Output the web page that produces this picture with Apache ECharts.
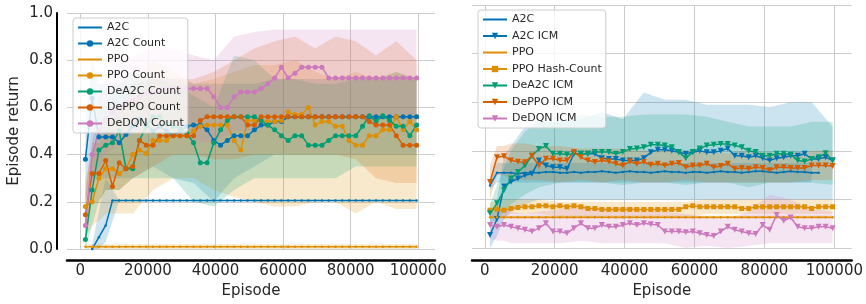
<!DOCTYPE html>
<html>
<head>
<meta charset="utf-8">
<script src="https://cdn.jsdelivr.net/npm/echarts@6/dist/echarts.min.js"></script>
<style>
  html, body { margin: 0; padding: 0; background: #fff; }
  #chart { width: 866px; height: 304px; }
</style>
</head>
<body>
<div id="chart"></div>
<script>
// episodes at which every curve was logged
var episodes = [
  1500, 3500, 5500, 7500, 9500, 11500, 13500, 15500, 17500, 19500,
  21500, 23500, 25500, 27500, 29500, 31500, 33500, 35500, 37500, 39500,
  41500, 43500, 45500, 47500, 49500, 51500, 53500, 55500, 57500, 59500,
  61500, 63500, 65500, 67500, 69500, 71500, 73500, 75500, 77500, 79500,
  81500, 83500, 85500, 87500, 89500, 91500, 93500, 95500, 97500, 99500
];
// coarser grid for the shaded std bands
var bandEpisodes = [1500, 3500, 5500, 7500, 11500, 15500, 21500, 27500, 33500, 39500,
  45500, 51500, 57500, 63500, 69500, 75500, 81500, 87500, 93500, 99500];
var xTicks = [0, 20000, 40000, 60000, 80000, 100000];
var yTicks = [0, 0.2, 0.4, 0.6, 0.8, 1.0];

// ---- left panel (count based bonuses)
var a2cL = [
  null, 0.0, 0.05, 0.10, 0.205, 0.205, 0.205, 0.205, 0.205, 0.205,
  0.205, 0.205, 0.205, 0.205, 0.205, 0.205, 0.205, 0.205, 0.205, 0.205,
  0.205, 0.205, 0.205, 0.205, 0.205, 0.205, 0.205, 0.205, 0.205, 0.205,
  0.205, 0.205, 0.205, 0.205, 0.205, 0.205, 0.205, 0.205, 0.205, 0.205,
  0.205, 0.205, 0.205, 0.205, 0.205, 0.205, 0.205, 0.205, 0.205, 0.205
];
var a2cCountL = [
  0.38, 0.64, 0.475, 0.475, 0.475, 0.45, 0.485, 0.52, 0.55, 0.53,
  0.50, 0.52, 0.50, 0.48, 0.50, 0.52, 0.525, 0.525, 0.505, 0.46,
  0.44, 0.46, 0.48, 0.48, 0.48, 0.505, 0.525, 0.525, 0.54, 0.54,
  0.56, 0.56, 0.56, 0.56, 0.56, 0.56, 0.56, 0.56, 0.56, 0.56,
  0.56, 0.56, 0.56, 0.56, 0.56, 0.56, 0.56, 0.56, 0.56, 0.56
];
var ppoL = [
  0.01, 0.01, 0.01, 0.01, 0.01, 0.01, 0.01, 0.01, 0.01, 0.01,
  0.01, 0.01, 0.01, 0.01, 0.01, 0.01, 0.01, 0.01, 0.01, 0.01,
  0.01, 0.01, 0.01, 0.01, 0.01, 0.01, 0.01, 0.01, 0.01, 0.01,
  0.01, 0.01, 0.01, 0.01, 0.01, 0.01, 0.01, 0.01, 0.01, 0.01,
  0.01, 0.01, 0.01, 0.01, 0.01, 0.01, 0.01, 0.01, 0.01, 0.01
];
var ppoCountL = [
  0.18, 0.20, 0.30, 0.34, 0.34, 0.32, 0.34, 0.40, 0.42, 0.405,
  0.46, 0.46, 0.46, 0.48, 0.48, 0.48, 0.50, 0.52, 0.525, 0.525,
  0.525, 0.525, 0.46, 0.42, 0.545, 0.545, 0.545, 0.54, 0.54, 0.545,
  0.58, 0.57, 0.57, 0.60, 0.525, 0.54, 0.54, 0.52, 0.52, 0.46,
  0.44, 0.44, 0.48, 0.48, 0.505, 0.505, 0.56, 0.505, 0.54, 0.505
];
var dea2cCountL = [
  0.04, 0.25, 0.42, 0.44, 0.45, 0.50, 0.34, 0.34, 0.46, 0.52,
  0.56, 0.56, 0.53, 0.52, 0.51, 0.49, 0.45, 0.365, 0.365, 0.45,
  0.505, 0.545, 0.56, 0.56, 0.56, 0.56, 0.545, 0.525, 0.505, 0.48,
  0.46, 0.48, 0.48, 0.44, 0.44, 0.44, 0.46, 0.48, 0.48, 0.48,
  0.48, 0.52, 0.565, 0.54, 0.565, 0.545, 0.52, 0.52, 0.48, 0.525
];
var deppoCountL = [
  0.145, 0.32, 0.32, 0.375, 0.265, 0.365, 0.34, 0.35, 0.46, 0.44,
  0.44, 0.48, 0.48, 0.48, 0.48, 0.48, 0.48, 0.545, 0.56, 0.56,
  0.56, 0.56, 0.56, 0.56, 0.525, 0.525, 0.56, 0.56, 0.56, 0.56,
  0.56, 0.56, 0.56, 0.56, 0.56, 0.56, 0.56, 0.56, 0.56, 0.56,
  0.56, 0.56, 0.54, 0.525, 0.525, 0.525, 0.48, 0.44, 0.44, 0.44
];
var dedqnCountL = [
  0.10, 0.40, 0.50, 0.55, 0.58, 0.60, 0.62, 0.63, 0.65, 0.66,
  0.66, 0.67, 0.68, 0.68, 0.68, 0.68, 0.68, 0.68, 0.68, 0.645,
  0.60, 0.60, 0.645, 0.665, 0.665, 0.665, 0.68, 0.70, 0.725, 0.77,
  0.725, 0.745, 0.77, 0.77, 0.77, 0.77, 0.725, 0.725, 0.725, 0.725,
  0.725, 0.725, 0.725, 0.725, 0.725, 0.725, 0.725, 0.725, 0.725, 0.725
];

// left bands (lower / upper)
var a2cLLo = [null, 0, 0, 0.03, 0.205, 0.205, 0.205, 0.205, 0.205, 0.205, 0.205, 0.205, 0.205, 0.205, 0.205, 0.205, 0.205, 0.205, 0.205, 0.205];
var a2cLHi = [null, 0.02, 0.16, 0.30, 0.205, 0.205, 0.205, 0.205, 0.205, 0.205, 0.205, 0.205, 0.205, 0.205, 0.205, 0.205, 0.205, 0.205, 0.205, 0.205];
var ppoLLo = [0, 0, 0, 0, 0, 0, 0, 0, 0, 0, 0, 0, 0, 0, 0, 0, 0, 0, 0, 0];
var ppoLHi = [0.02, 0.02, 0.02, 0.02, 0.02, 0.02, 0.02, 0.02, 0.02, 0.02, 0.02, 0.02, 0.02, 0.02, 0.02, 0.02, 0.02, 0.02, 0.02, 0.02];
var a2cCountLLo = [0.2, 0.3, 0.3, 0.3, 0.3, 0.3, 0.35, 0.3, 0.28, 0.2, 0.3, 0.35, 0.4, 0.4, 0.4, 0.4, 0.4, 0.4, 0.4, 0.4];
var a2cCountLHi = [0.55, 0.8, 0.7, 0.7, 0.7, 0.7, 0.72, 0.72, 0.7, 0.7, 0.7, 0.7, 0.72, 0.72, 0.72, 0.72, 0.72, 0.72, 0.72, 0.72];
var ppoCountLLo = [0.05, 0.1, 0.12, 0.15, 0.15, 0.15, 0.25, 0.3, 0.3, 0.25, 0.22, 0.2, 0.18, 0.18, 0.2, 0.2, 0.15, 0.2, 0.17, 0.17];
var ppoCountLHi = [0.3, 0.4, 0.5, 0.55, 0.6, 0.7, 0.8, 0.75, 0.7, 0.72, 0.75, 0.78, 0.78, 0.8, 0.75, 0.72, 0.75, 0.72, 0.75, 0.72];
var dea2cCountLLo = [0.0, 0.1, 0.2, 0.25, 0.25, 0.3, 0.3, 0.3, 0.2, 0.18, 0.25, 0.3, 0.3, 0.3, 0.3, 0.3, 0.35, 0.35, 0.35, 0.35];
var dea2cCountLHi = [0.1, 0.45, 0.6, 0.62, 0.7, 0.75, 0.72, 0.7, 0.65, 0.6, 0.82, 0.8, 0.72, 0.72, 0.7, 0.7, 0.72, 0.72, 0.75, 0.72];
var deppoCountLLo = [0.05, 0.2, 0.2, 0.25, 0.25, 0.3, 0.35, 0.4, 0.4, 0.38, 0.38, 0.4, 0.4, 0.4, 0.4, 0.4, 0.38, 0.3, 0.28, 0.28];
var deppoCountLHi = [0.25, 0.45, 0.45, 0.5, 0.6, 0.62, 0.72, 0.72, 0.72, 0.75, 0.8, 0.85, 0.88, 0.9, 0.85, 0.9, 0.88, 0.82, 0.88, 0.8];
var dedqnCountLLo = [0.0, 0.25, 0.35, 0.4, 0.45, 0.5, 0.5, 0.5, 0.45, 0.45, 0.5, 0.5, 0.55, 0.55, 0.55, 0.55, 0.55, 0.55, 0.55, 0.55];
var dedqnCountLHi = [0.2, 0.55, 0.65, 0.72, 0.8, 0.82, 0.85, 0.85, 0.82, 0.8, 0.9, 0.92, 0.93, 0.93, 0.93, 0.93, 0.93, 0.93, 0.93, 0.93];

// ---- right panel (ICM / hash-count bonuses)
var a2cR = [
  0.258, 0.31, 0.31, 0.31, 0.306, 0.31, 0.31, 0.31, 0.313, 0.313,
  0.31, 0.31, 0.313, 0.31, 0.313, 0.313, 0.316, 0.313, 0.31, 0.313,
  0.316, 0.313, 0.313, 0.31, 0.313, 0.316, 0.313, 0.313, 0.31, 0.313,
  0.313, 0.31, 0.313, 0.316, 0.313, 0.313, 0.31, 0.313, 0.316, 0.316,
  0.313, 0.31, 0.313, 0.316, 0.313, 0.313, 0.31, 0.31, null, null
];
var a2cIcmR = [
  0.054, 0.12, 0.253, 0.273, 0.286, 0.30, 0.306, 0.36, 0.34, 0.333,
  0.333, 0.326, 0.388, 0.388, 0.388, 0.388, 0.37, 0.367, 0.367, 0.36,
  0.36, 0.36, 0.37, 0.394, 0.405, 0.405, 0.40, 0.394, 0.388, 0.394,
  0.40, 0.394, 0.394, 0.40, 0.41, 0.38, 0.38, 0.374, 0.38, 0.37,
  0.36, 0.37, 0.374, 0.38, 0.38, 0.388, 0.367, 0.367, 0.374, 0.36
];
var ppoR = [
  0.127, 0.127, 0.127, 0.127, 0.127, 0.127, 0.127, 0.127, 0.127, 0.127,
  0.127, 0.127, 0.127, 0.127, 0.127, 0.127, 0.127, 0.127, 0.127, 0.127,
  0.127, 0.127, 0.127, 0.127, 0.127, 0.127, 0.127, 0.127, 0.127, 0.127,
  0.127, 0.127, 0.127, 0.127, 0.127, 0.127, 0.127, 0.127, 0.127, 0.127,
  0.127, 0.127, 0.127, 0.127, 0.127, 0.127, 0.127, 0.127, 0.127, 0.127
];
var ppoHashR = [
  0.156, 0.16, 0.156, 0.163, 0.167, 0.17, 0.17, 0.174, 0.174, 0.17,
  0.174, 0.17, 0.174, 0.17, 0.163, 0.163, 0.159, 0.159, 0.159, 0.159,
  0.159, 0.159, 0.159, 0.159, 0.159, 0.159, 0.159, 0.159, 0.17, 0.174,
  0.17, 0.17, 0.17, 0.17, 0.17, 0.17, 0.163, 0.163, 0.17, 0.17,
  0.17, 0.17, 0.17, 0.17, 0.17, 0.17, 0.163, 0.17, 0.17, 0.17
];
var dea2cIcmR = [
  0.143, 0.184, 0.238, 0.286, 0.313, 0.34, 0.38, 0.408, 0.42, 0.388,
  0.388, 0.385, 0.388, 0.388, 0.388, 0.395, 0.395, 0.395, 0.388, 0.395,
  0.408, 0.41, 0.415, 0.425, 0.425, 0.422, 0.415, 0.395, 0.37, 0.395,
  0.41, 0.422, 0.425, 0.428, 0.428, 0.422, 0.415, 0.40, 0.395, 0.38,
  0.38, 0.388, 0.388, 0.385, 0.36, 0.356, 0.367, 0.374, 0.39, 0.36
];
var deppoIcmR = [
  0.272, 0.374, 0.378, 0.36, 0.355, 0.353, 0.38, 0.34, 0.368, 0.368,
  0.36, 0.36, 0.395, 0.374, 0.36, 0.354, 0.36, 0.356, 0.347, 0.34,
  0.356, 0.347, 0.354, 0.343, 0.347, 0.34, 0.347, 0.35, 0.333, 0.34,
  0.34, 0.347, 0.333, 0.338, 0.347, 0.326, 0.33, 0.326, 0.333, 0.33,
  0.32, 0.333, 0.333, 0.33, 0.33, 0.33, 0.34, 0.34, 0.34, 0.338
];
var dedqnIcmR = [
  0.095, 0.088, 0.095, 0.088, 0.082, 0.075, 0.068, 0.082, 0.102, 0.068,
  0.068, 0.061, 0.082, 0.102, 0.082, 0.082, 0.095, 0.088, 0.088, 0.095,
  0.102, 0.095, 0.102, 0.098, 0.095, 0.068, 0.068, 0.068, 0.065, 0.068,
  0.061, 0.054, 0.05, 0.068, 0.088, 0.075, 0.068, 0.061, 0.058, 0.095,
  0.075, 0.136, 0.112, 0.126, 0.088, 0.082, 0.082, 0.088, 0.088, 0.082
];

// right bands (lower / upper)
var a2cRLo = [0.24, 0.27, 0.27, 0.27, 0.27, 0.27, 0.27, 0.27, 0.27, 0.27, 0.27, 0.27, 0.27, 0.27, 0.27, 0.27, 0.27, 0.27, 0.27, null];
var a2cRHi = [0.28, 0.35, 0.35, 0.35, 0.35, 0.35, 0.35, 0.35, 0.35, 0.35, 0.35, 0.35, 0.35, 0.35, 0.35, 0.35, 0.35, 0.35, 0.35, null];
var a2cIcmRLo = [0.0, 0.05, 0.12, 0.15, 0.18, 0.2, 0.2, 0.2, 0.2, 0.2, 0.2, 0.2, 0.2, 0.2, 0.2, 0.2, 0.2, 0.2, 0.2, 0.2];
var a2cIcmRHi = [0.12, 0.2, 0.38, 0.42, 0.5, 0.52, 0.52, 0.53, 0.56, 0.53, 0.64, 0.61, 0.61, 0.59, 0.59, 0.59, 0.58, 0.6, 0.6, 0.5];
var ppoRLo = [0.12, 0.12, 0.12, 0.12, 0.12, 0.12, 0.12, 0.12, 0.12, 0.12, 0.12, 0.12, 0.12, 0.12, 0.12, 0.12, 0.12, 0.12, 0.12, 0.12];
var ppoRHi = [0.134, 0.134, 0.134, 0.134, 0.134, 0.134, 0.134, 0.134, 0.134, 0.134, 0.134, 0.134, 0.134, 0.134, 0.134, 0.134, 0.134, 0.134, 0.134, 0.134];
var ppoHashRLo = [0.12, 0.13, 0.13, 0.14, 0.14, 0.14, 0.13, 0.13, 0.13, 0.13, 0.13, 0.13, 0.13, 0.14, 0.14, 0.14, 0.14, 0.14, 0.14, 0.14];
var ppoHashRHi = [0.19, 0.19, 0.2, 0.2, 0.2, 0.2, 0.19, 0.19, 0.19, 0.19, 0.19, 0.19, 0.19, 0.2, 0.2, 0.2, 0.2, 0.2, 0.2, 0.2];
var dea2cIcmRLo = [0.1, 0.12, 0.15, 0.18, 0.22, 0.25, 0.27, 0.27, 0.27, 0.26, 0.27, 0.27, 0.26, 0.27, 0.27, 0.25, 0.27, 0.27, 0.27, 0.26];
var dea2cIcmRHi = [0.18, 0.26, 0.33, 0.4, 0.48, 0.52, 0.52, 0.55, 0.54, 0.54, 0.55, 0.55, 0.55, 0.54, 0.52, 0.5, 0.5, 0.5, 0.52, 0.52];
var deppoIcmRLo = [0.2, 0.3, 0.3, 0.28, 0.28, 0.28, 0.27, 0.28, 0.27, 0.28, 0.27, 0.27, 0.28, 0.27, 0.27, 0.27, 0.27, 0.27, 0.28, 0.28];
var deppoIcmRHi = [0.34, 0.42, 0.42, 0.43, 0.43, 0.42, 0.42, 0.41, 0.41, 0.41, 0.4, 0.4, 0.4, 0.4, 0.39, 0.4, 0.39, 0.39, 0.4, 0.4];
var dedqnIcmRLo = [0.04, 0.03, 0.03, 0.02, 0.02, 0.02, 0.02, 0.03, 0.02, 0.02, 0.02, 0.02, 0.0, 0.01, 0.0, 0.01, 0.02, 0.02, 0.02, 0.02];
var dedqnIcmRHi = [0.15, 0.15, 0.16, 0.15, 0.14, 0.15, 0.16, 0.17, 0.16, 0.17, 0.16, 0.15, 0.14, 0.13, 0.12, 0.15, 0.22, 0.2, 0.16, 0.15];

var namesL = ['A2C', 'A2C Count', 'PPO', 'PPO Count', 'DeA2C Count', 'DePPO Count', 'DeDQN Count'];
var namesR = ['A2C', 'A2C ICM', 'PPO', 'PPO Hash-Count', 'DeA2C ICM', 'DePPO ICM', 'DeDQN ICM'];
// entries plotted with a tiny '.' marker: legend shows just the line
var plainLines = ['A2C', 'PPO'];

// seaborn colorblind
var BLUE = '#0173b2', ORANGE = '#de8f05', GREEN = '#029e73', RED = '#d55e00', PINK = '#cc78bc';
var FONT = 'DejaVu Sans';

function rgba(hex, a) {
  var n = parseInt(hex.slice(1), 16);
  return 'rgba(' + (n >> 16) + ',' + ((n >> 8) & 255) + ',' + (n & 255) + ',' + a + ')';
}

function lineSeries(name, ys, color, symbol, size, gi) {
  return {
    name: name, type: 'line', xAxisIndex: gi, yAxisIndex: gi,
    data: episodes.map(function (x, i) { return [x, ys[i]]; }),
    symbol: symbol, symbolSize: size, symbolRotate: symbol === 'triangle' ? 180 : 0,
    showAllSymbol: true,
    lineStyle: { width: 1.5, color: color },
    itemStyle: { color: color },
    emphasis: { disabled: true },
    z: 3
  };
}

// fill_between style band, drawn as a polygon through the axis scales
function bandSeries(lo, hi, color, gi) {
  return {
    type: 'custom', xAxisIndex: gi, yAxisIndex: gi, silent: true, z: 1,
    data: [[bandEpisodes[0], 0]],
    renderItem: function (params, api) {
      var top = [], bot = [];
      for (var k = 0; k < bandEpisodes.length; k++) {
        if (lo[k] == null || hi[k] == null) continue;
        top.push(api.coord([bandEpisodes[k], hi[k]]));
        bot.unshift(api.coord([bandEpisodes[k], lo[k]]));
      }
      return { type: 'polygon', shape: { points: top.concat(bot) }, style: { fill: rgba(color, 0.2) } };
    }
  };
}

function xAxisCfg(gi, min, max, offset) {
  return {
    type: 'value', gridIndex: gi, min: min, max: max, offset: offset,
    axisLine: { show: true, onZero: false, lineStyle: { color: '#000', width: 2.5 } },
    axisTick: { show: false, customValues: xTicks },
    axisLabel: { customValues: xTicks, fontSize: 15, color: '#262626', margin: 4, fontFamily: FONT,
      formatter: function (v) { return String(v); } },
    splitLine: { show: true, lineStyle: { color: '#cccccc', width: 1 } },
    name: 'Episode', nameLocation: 'middle', nameGap: 21,
    nameTextStyle: { fontSize: 15, color: '#262626', fontFamily: FONT }
  };
}

function legendCfg(names, left, top, gap) {
  return {
    data: names.map(function (n) {
      return plainLines.indexOf(n) >= 0 ? { name: n, itemStyle: { opacity: 0 } } : n;
    }),
    orient: 'vertical', left: left, top: top,
    itemWidth: 24, itemHeight: 8, itemGap: gap, padding: [4, 4, 4, 4],
    backgroundColor: 'rgba(255,255,255,0.8)', borderColor: '#cccccc', borderWidth: 1, borderRadius: 3,
    textStyle: { fontSize: 11, color: '#262626', fontFamily: FONT },
    selectedMode: false
  };
}

var chart = echarts.init(document.getElementById('chart'));
var option = {
  animation: false,
  textStyle: { fontFamily: FONT },
  grid: [
    { left: 67, top: 13, width: 368, height: 236 },
    { left: 472, top: 5, width: 381, height: 245 }
  ],
  legend: [legendCfg(namesL, 73, 18, 5), legendCfg(namesR, 478, 10, 5.5)],
  xAxis: [xAxisCfg(0, -3950, 104950, 11), xAxisCfg(1, -3650, 104950, 12)],
  yAxis: [
    {
      type: 'value', gridIndex: 0, min: 0, max: 1, interval: 0.2, offset: 10,
      axisLine: { show: true, onZero: false, lineStyle: { color: '#000', width: 2 } },
      axisTick: { show: false },
      axisLabel: { fontSize: 15, color: '#262626', margin: 4, fontFamily: FONT,
        formatter: function (v) { return v.toFixed(1); } },
      splitLine: { show: true, lineStyle: { color: '#cccccc', width: 1 } },
      name: 'Episode return', nameLocation: 'middle', nameGap: 35,
      nameTextStyle: { fontSize: 15, color: '#262626', fontFamily: FONT }
    },
    {
      type: 'value', gridIndex: 1, min: 0, max: 1, interval: 0.2,
      axisLine: { show: false }, axisTick: { show: false }, axisLabel: { show: false },
      splitLine: { show: true, lineStyle: { color: '#cccccc', width: 1 } }
    }
  ],
  series: [
    bandSeries(a2cLLo, a2cLHi, BLUE, 0),
    bandSeries(a2cCountLLo, a2cCountLHi, BLUE, 0),
    bandSeries(ppoLLo, ppoLHi, ORANGE, 0),
    bandSeries(ppoCountLLo, ppoCountLHi, ORANGE, 0),
    bandSeries(dea2cCountLLo, dea2cCountLHi, GREEN, 0),
    bandSeries(deppoCountLLo, deppoCountLHi, RED, 0),
    bandSeries(dedqnCountLLo, dedqnCountLHi, PINK, 0),
    lineSeries('A2C', a2cL, BLUE, 'circle', 2.5, 0),
    lineSeries('A2C Count', a2cCountL, BLUE, 'circle', 5, 0),
    lineSeries('PPO', ppoL, ORANGE, 'circle', 2.5, 0),
    lineSeries('PPO Count', ppoCountL, ORANGE, 'circle', 5, 0),
    lineSeries('DeA2C Count', dea2cCountL, GREEN, 'circle', 5, 0),
    lineSeries('DePPO Count', deppoCountL, RED, 'circle', 5, 0),
    lineSeries('DeDQN Count', dedqnCountL, PINK, 'circle', 5, 0),

    bandSeries(a2cRLo, a2cRHi, BLUE, 1),
    bandSeries(a2cIcmRLo, a2cIcmRHi, BLUE, 1),
    bandSeries(ppoRLo, ppoRHi, ORANGE, 1),
    bandSeries(ppoHashRLo, ppoHashRHi, ORANGE, 1),
    bandSeries(dea2cIcmRLo, dea2cIcmRHi, GREEN, 1),
    bandSeries(deppoIcmRLo, deppoIcmRHi, RED, 1),
    bandSeries(dedqnIcmRLo, dedqnIcmRHi, PINK, 1),
    lineSeries('A2C', a2cR, BLUE, 'circle', 2.5, 1),
    lineSeries('A2C ICM', a2cIcmR, BLUE, 'triangle', 6, 1),
    lineSeries('PPO', ppoR, ORANGE, 'circle', 2.5, 1),
    lineSeries('PPO Hash-Count', ppoHashR, ORANGE, 'rect', 5, 1),
    lineSeries('DeA2C ICM', dea2cIcmR, GREEN, 'triangle', 6, 1),
    lineSeries('DePPO ICM', deppoIcmR, RED, 'triangle', 6, 1),
    lineSeries('DeDQN ICM', dedqnIcmR, PINK, 'triangle', 6, 1)
  ]
};
chart.setOption(option);
window.addEventListener('resize', function () { chart.resize(); });
</script>
</body>
</html>
